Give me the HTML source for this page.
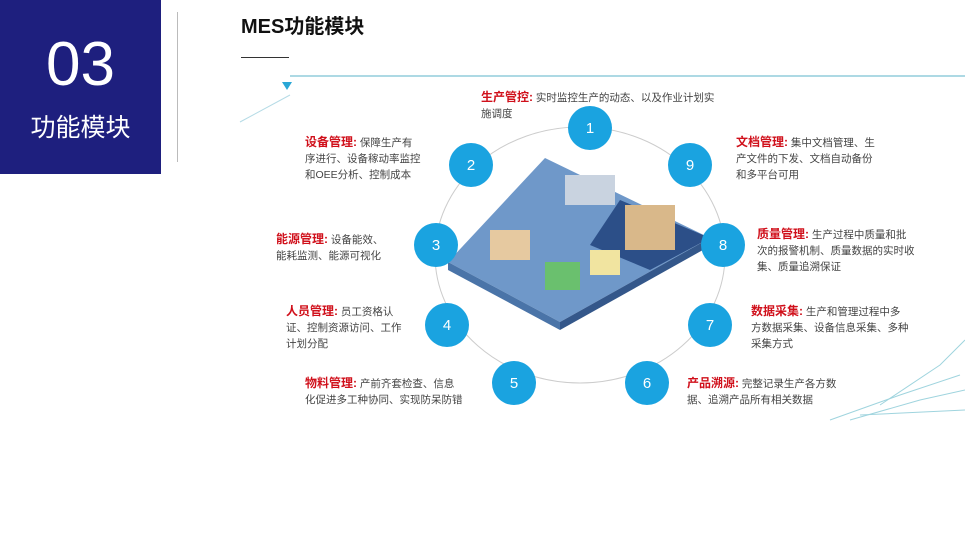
<!DOCTYPE html>
<html><head><meta charset="utf-8"><style>
body{margin:0;width:965px;height:540px;background:#fff;position:relative;overflow:hidden;font-family:"Liberation Sans","Noto Sans CJK SC",sans-serif}
.t{position:absolute;font-size:10.5px;line-height:16px;color:#444}
.t b{color:#d0101b;font-size:12px}
</style></head><body>
<div style="position:absolute;left:0;top:0;width:161px;height:174px;background:#1e1f7e"></div>
<div style="position:absolute;left:0;width:161px;top:30px;text-align:center;color:#fff;font-size:62px;line-height:70px">03</div>
<div style="position:absolute;left:0;width:161px;top:112px;text-align:center;color:#fff;font-size:25px;line-height:32px">功能模块</div>
<div style="position:absolute;left:177px;top:12px;width:1px;height:150px;background:#bbb"></div>
<div style="position:absolute;left:241px;top:10px;font-size:20px;font-weight:bold;color:#111">MES功能模块</div>
<div style="position:absolute;left:241px;top:57px;width:48px;height:1px;background:#333"></div>
<svg width="965" height="540" style="position:absolute;left:0;top:0">
<line x1="290" y1="76" x2="965" y2="76" stroke="#5bb3c9" stroke-width="1"/>
<polygon points="282,82 292,82 287,90" fill="#29a7d6"/>
<line x1="240" y1="122" x2="290" y2="95" stroke="#b5dbe6"/>
<g stroke="#9fd4de" stroke-width="1" fill="none">
<path d="M830,420 L900,395 L960,375"/><path d="M850,420 L920,400 L965,390"/><path d="M880,405 L940,365 L965,340"/><path d="M860,415 L965,410"/>
</g>
<ellipse cx="580" cy="255" rx="145" ry="128" fill="none" stroke="#ccc" stroke-width="1"/>
<polygon points="448,262 545,158 710,238 560,322" fill="#6f98c9"/>
<polygon points="620,200 710,238 650,270 590,245" fill="#2c4f88"/>
<polygon points="448,262 560,322 560,330 448,270" fill="#4a74a8"/>
<polygon points="560,322 710,238 710,246 560,330" fill="#34578a"/>
<rect x="490" y="230" width="40" height="30" fill="#e6c9a0"/>
<rect x="625" y="205" width="50" height="45" fill="#d9b88a"/>
<rect x="545" y="262" width="35" height="28" fill="#6ac06e"/>
<rect x="590" y="250" width="30" height="25" fill="#f1e4a0"/>
<rect x="565" y="175" width="50" height="30" fill="#c9d3e0"/>
<g fill="#1aa3e0">
<circle cx="590" cy="128" r="22"/><circle cx="471" cy="165" r="22"/><circle cx="690" cy="165" r="22"/>
<circle cx="436" cy="245" r="22"/><circle cx="723" cy="245" r="22"/><circle cx="447" cy="325" r="22"/>
<circle cx="710" cy="325" r="22"/><circle cx="514" cy="383" r="22"/><circle cx="647" cy="383" r="22"/>
</g>
<g fill="#fff" font-size="15" text-anchor="middle" font-family="Liberation Sans">
<text x="590" y="133">1</text><text x="471" y="170">2</text><text x="690" y="170">9</text>
<text x="436" y="250">3</text><text x="723" y="250">8</text><text x="447" y="330">4</text>
<text x="710" y="330">7</text><text x="514" y="388">5</text><text x="647" y="388">6</text>
</g>
</svg>
<div class="t" style="left:481px;top:89px;width:250px"><b>生产管控:</b> 实时监控生产的动态、以及作业计划实<br>施调度</div>
<div class="t" style="left:305px;top:134px;width:150px"><b>设备管理:</b> 保障生产有<br>序进行、设备稼动率监控<br>和OEE分析、控制成本</div>
<div class="t" style="left:736px;top:134px;width:160px"><b>文档管理:</b> 集中文档管理、生<br>产文件的下发、文档自动备份<br>和多平台可用</div>
<div class="t" style="left:276px;top:231px;width:150px"><b>能源管理:</b> 设备能效、<br>能耗监测、能源可视化</div>
<div class="t" style="left:757px;top:226px;width:170px"><b>质量管理:</b> 生产过程中质量和批<br>次的报警机制、质量数据的实时收<br>集、质量追溯保证</div>
<div class="t" style="left:286px;top:303px;width:140px"><b>人员管理:</b> 员工资格认<br>证、控制资源访问、工作<br>计划分配</div>
<div class="t" style="left:751px;top:303px;width:170px"><b>数据采集:</b> 生产和管理过程中多<br>方数据采集、设备信息采集、多种<br>采集方式</div>
<div class="t" style="left:305px;top:375px;width:180px"><b>物料管理:</b> 产前齐套检查、信息<br>化促进多工种协同、实现防呆防错</div>
<div class="t" style="left:687px;top:375px;width:170px"><b>产品溯源:</b> 完整记录生产各方数<br>据、追溯产品所有相关数据</div>
</body></html>
